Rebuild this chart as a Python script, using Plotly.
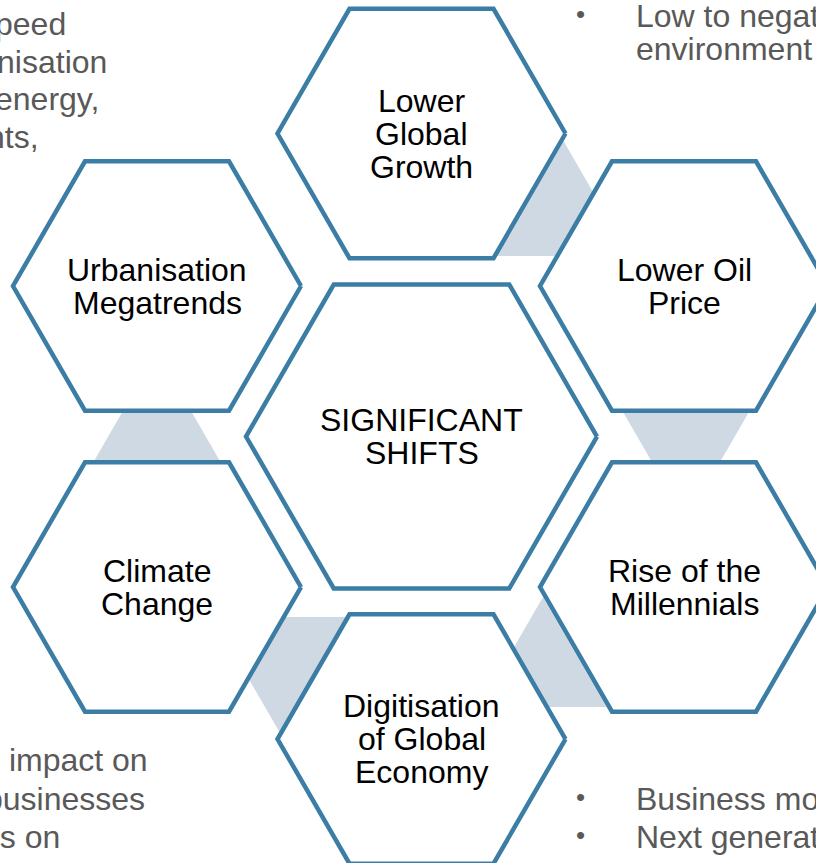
import math
import plotly.graph_objects as go

# hexagon labels: centre first, then clockwise from the top
hex_labels = [
    ["SIGNIFICANT", "SHIFTS"],
    ["Lower", "Global", "Growth"],
    ["Lower Oil", "Price"],
    ["Rise of the", "Millennials"],
    ["Digitisation", "of Global", "Economy"],
    ["Climate", "Change"],
    ["Urbanisation", "Megatrends"],
]

# notes that are cut off by the page edges
left_top_lines = ["speed", "urbanisation", "energy,", "nts,"]
left_bottom_lines = ["s impact on", "businesses", "us on"]
right_top_lines = ["Low to negative", "environment"]
right_top_bullets = [True, False]
right_bottom_lines = ["Business models", "Next generation"]
right_bottom_bullets = [True, True]

W, H = 816, 863
LINE = "#3B7DA4"
LINK = "#CFD9E4"
NOTE = "#595959"
FONT = "Liberation Sans, Arial, sans-serif"
SIZE = 32

hex_centres = [(421.5, 436.5), (421.5, 133.5), (684, 286), (684, 587),
               (421.5, 739), (157, 587), (157, 286)]
hex_radii = [175.5, 144, 144, 144, 144, 144, 144]

# connector triangles: apex x, apex y, base y
links = [(563, 140, 256), (686, 521, 405), (543, 597, 707),
         (280, 733, 617), (157, 352, 468)]


def hexagon(cx, cy, r):
    """
    Flat-topped hexagon outline
    """
    xs = [cx + r * math.cos(math.radians(a)) for a in range(0, 361, 60)]
    ys = [cy + r * math.sin(math.radians(a)) for a in range(0, 361, 60)]
    return xs, ys


def triangle(ax, ay, by):
    half = abs(by - ay) * math.tan(math.radians(30))
    return [ax, ax - half, ax + half, ax], [ay, by, by, ay]


fig = go.Figure()

for ax, ay, by in links:
    xs, ys = triangle(ax, ay, by)
    fig.add_trace(
        go.Scatter(x=xs, y=ys, mode="lines", fill="toself",
                   fillcolor=LINK, line=dict(width=0, color=LINK),
                   hoverinfo="skip")
    )

for (cx, cy), r in zip(hex_centres, hex_radii):
    xs, ys = hexagon(cx, cy, r)
    fig.add_trace(
        go.Scatter(x=xs, y=ys, mode="lines", fill="toself",
                   fillcolor="white", line=dict(width=4.5, color=LINE),
                   hoverinfo="skip")
    )

annotations = []
for (cx, cy), lines in zip(hex_centres, hex_labels):
    n = len(lines)
    for i, txt in enumerate(lines):
        annotations.append(dict(
            x=cx, y=cy + (i - (n - 1) / 2) * 33, text=txt,
            xanchor="center", yanchor="middle", showarrow=False,
            font=dict(family=FONT, size=SIZE, color="black")
        ))

for txt, x, y in zip(left_top_lines, [68, 109, 101, 41], [24, 62, 99, 137]):
    annotations.append(dict(x=x, y=y, text=txt, xanchor="right",
                            yanchor="middle", showarrow=False,
                            font=dict(family=FONT, size=SIZE, color=NOTE)))

for txt, x, y in zip(left_bottom_lines, [150, 147, 62], [760, 799, 837]):
    annotations.append(dict(x=x, y=y, text=txt, xanchor="right",
                            yanchor="middle", showarrow=False,
                            font=dict(family=FONT, size=SIZE, color=NOTE)))

right_notes = list(zip(right_top_lines, right_top_bullets, [16, 49])) + \
    list(zip(right_bottom_lines, right_bottom_bullets, [799, 837]))
for txt, bullet, y in right_notes:
    annotations.append(dict(x=634, y=y, text=txt, xanchor="left",
                            yanchor="middle", showarrow=False,
                            font=dict(family=FONT, size=SIZE, color=NOTE)))
    if bullet:
        annotations.append(dict(x=580, y=y - 2, text="•", xanchor="center",
                                yanchor="middle", showarrow=False,
                                font=dict(family=FONT, size=26, color=NOTE)))

fig.update_layout(
    width=W, height=H,
    margin=dict(l=0, r=0, t=0, b=0),
    paper_bgcolor="white", plot_bgcolor="white",
    showlegend=False,
    xaxis=dict(range=[0, W], visible=False, fixedrange=True),
    yaxis=dict(range=[H, 0], visible=False, fixedrange=True),
    annotations=annotations,
)

fig.write_html("out.html", config={"displayModeBar": False},
               post_script="document.body.style.margin='0';")
